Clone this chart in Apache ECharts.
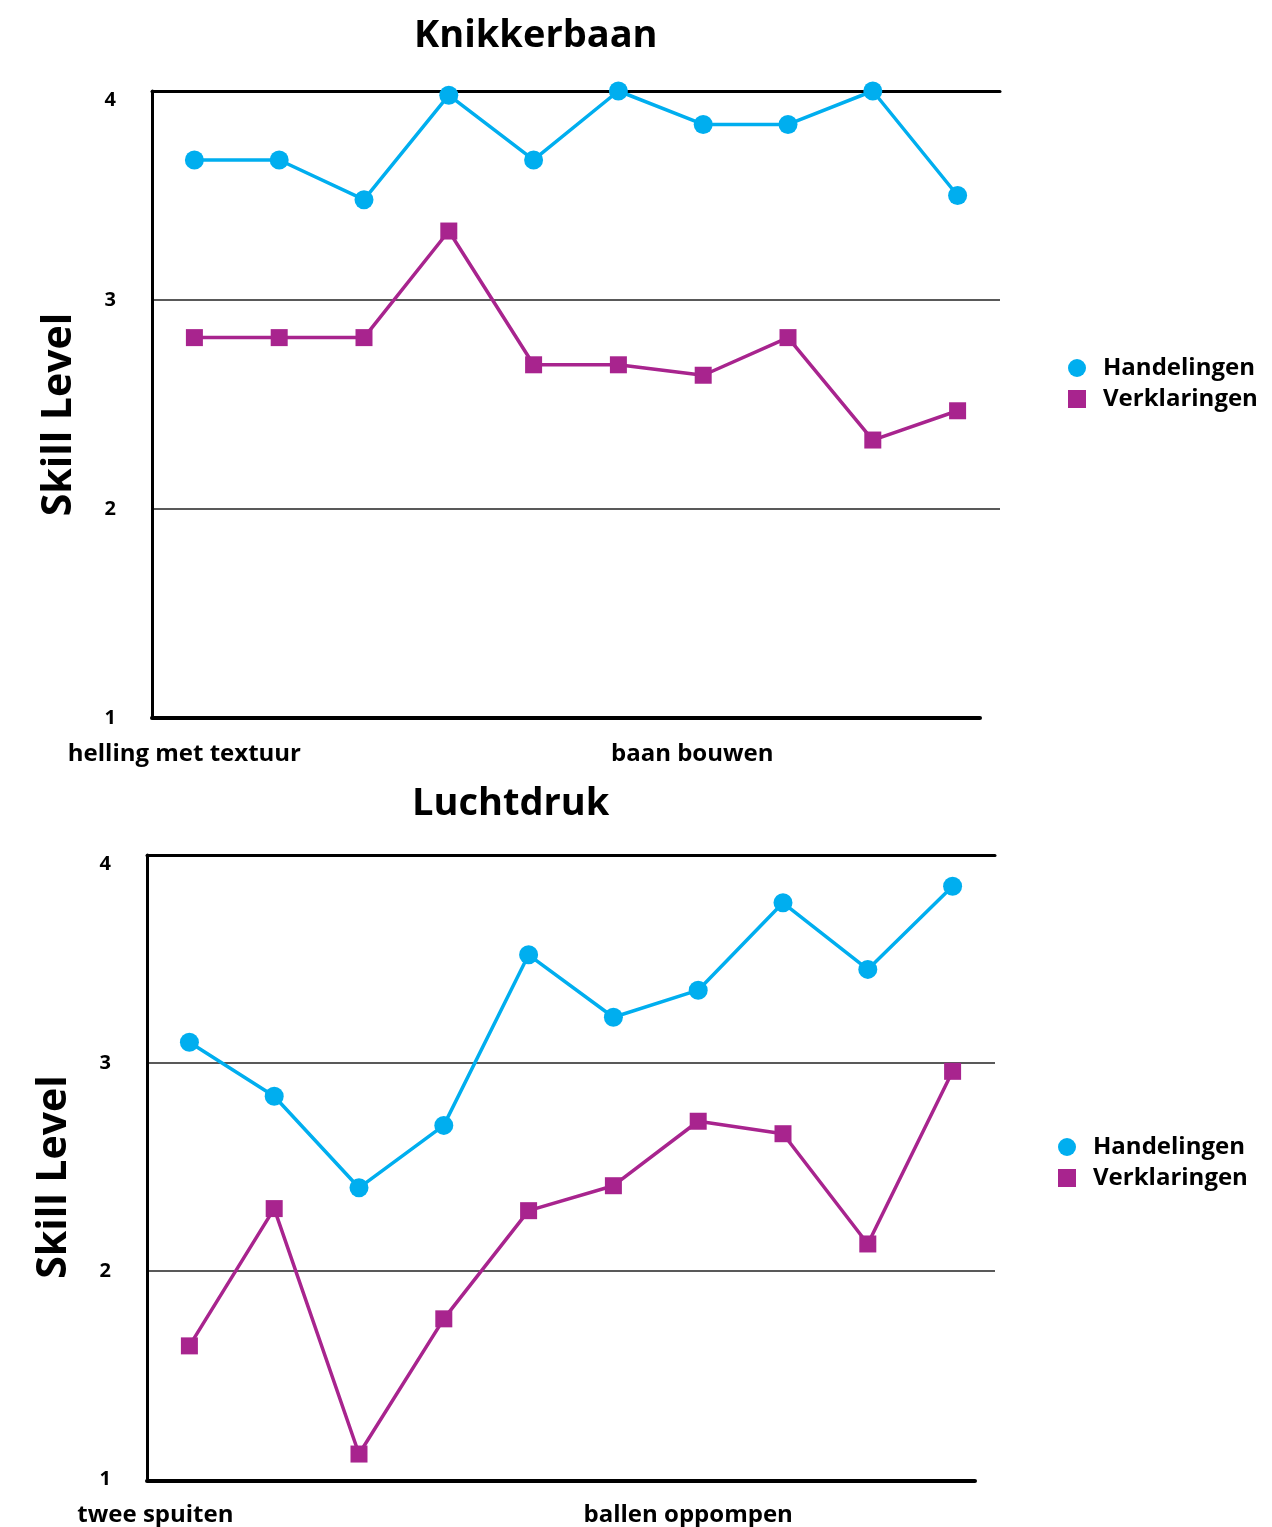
<!DOCTYPE html>
<html><head><meta charset="utf-8">
<script src="https://cdn.jsdelivr.net/npm/echarts@6/dist/echarts.min.js"></script>
<style>html,body{margin:0;padding:0;background:#fff}#c{width:1272px;height:1527px}</style>
</head><body><div id="c"></div>
<script>
const categoriesTop = ['helling met textuur','','','','','','baan bouwen','','',''];
const categoriesBottom = ['twee spuiten','','','','','','ballen oppompen','','',''];
const handelingenTop = [3.67, 3.67, 3.48, 3.98, 3.67, 4.0, 3.84, 3.84, 4.0, 3.5];
const verklaringenTop = [2.82, 2.82, 2.82, 3.33, 2.69, 2.69, 2.64, 2.82, 2.33, 2.47];
const handelingenBottom = [3.10, 2.84, 2.40, 2.70, 3.52, 3.22, 3.35, 3.77, 3.45, 3.85];
const verklaringenBottom = [1.64, 2.30, 1.12, 1.77, 2.29, 2.41, 2.72, 2.66, 2.13, 2.96];
const titles = ['Knikkerbaan', 'Luchtdruk'];
const seriesNames = ['Handelingen', 'Verklaringen'];
const yTicks = [1, 2, 3, 4];

const BLUE = '#00AEEF', PURPLE = '#A8248E';
const FONT = "'Open Sans','DejaVu Sans',sans-serif";

const chart = echarts.init(document.getElementById('c'));

const grids = [
  {left:152, right:272, top:91, height:627},
  {left:152, right:292, top:91, height:627},
  {left:147, right:277, top:855, height:626},
  {left:147, right:297, top:855, height:626}
];

function yAx(gi, show){
  return {
    type:'value', gridIndex:gi, min:yTicks[0], max:yTicks[yTicks.length-1], interval:1,
    show: show,
    name: show ? 'Skill Level' : '', nameLocation:'middle', nameGap:72,
    nameTextStyle:{fontFamily:FONT, fontWeight:'bold', fontSize:41, color:'#000', padding:[0,20,0,0]},
    axisLine:{show:true, lineStyle:{color:'#000', width:3}},
    axisTick:{show:false},
    axisLabel:{show:true, margin:36, fontFamily:FONT, fontWeight:'bold', fontSize:20, color:'#000',
      formatter: v => (v === yTicks[yTicks.length-1] ? '{d|' + v + '}' : '{n|' + v + '}'),
      rich:{
        d:{fontFamily:FONT, fontWeight:'bold', fontSize:20, color:'#000', padding:[18,0,0,0]},
        n:{fontFamily:FONT, fontWeight:'bold', fontSize:20, color:'#000'}
      }},
    splitLine:{show:true, lineStyle:{color:['rgba(0,0,0,0)','#222','#222','#222'], width:1.5}}
  };
}
function xAx(gi, cats, opts){
  return Object.assign({
    type:'category', gridIndex:gi, data:cats, boundaryGap:true,
    axisTick:{show:false},
    axisLine:{show:false},
    axisLabel:{show:false},
    splitLine:{show:false}
  }, opts);
}
function labelStyle(){
  return {show:true, interval:0, margin:24, fontFamily:FONT, fontWeight:'bold', fontSize:24, color:'#000'};
}
function catItems(cats, pads){
  return cats.map((c, i) => ({value:c, textStyle:{padding:[0, pads[i] || 0, 0, 0]}}));
}
const padsTop = [20, 0, 0, 0, 0, 0, 22, 0, 0, 0];
const padsBottom = [68, 0, 0, 0, 0, 0, 20, 0, 0, 0];

const legendText = {fontFamily:FONT, fontWeight:'bold', fontSize:24, color:'#000', padding:[0,0,0,12]};

const option = {
  animation:false,
  backgroundColor:'#fff',
  title:[
    {text:titles[0], left:409, top:12, textStyle:{fontFamily:FONT, fontWeight:'bold', fontSize:38, color:'#000'}},
    {text:titles[1], left:407, top:780, textStyle:{fontFamily:FONT, fontWeight:'bold', fontSize:38, color:'#000'}}
  ],
  legend:[
    {orient:'vertical', left:1063, top:351, itemGap:7, itemWidth:18, itemHeight:18, textStyle:legendText,
     data:[{name:seriesNames[0], icon:'circle'}, {name:seriesNames[1], icon:'rect'}]},
    {orient:'vertical', left:1053, top:1130, itemGap:7, itemWidth:18, itemHeight:18, textStyle:legendText,
     data:[{name:seriesNames[0], icon:'circle'}, {name:seriesNames[1], icon:'rect'}]}
  ],
  grid: grids,
  xAxis:[
    xAx(0, categoriesTop, {}),
    xAx(0, categoriesTop, {position:'top', axisLine:{show:true, onZero:false, lineStyle:{color:'#000', width:3}}}),
    xAx(1, categoriesTop, {axisLine:{show:true, onZero:false, lineStyle:{color:'#000', width:4}}}),
    xAx(0, catItems(categoriesTop, padsTop), {position:'bottom', axisLabel:labelStyle()}),
    xAx(2, categoriesBottom, {}),
    xAx(2, categoriesBottom, {position:'top', axisLine:{show:true, onZero:false, lineStyle:{color:'#000', width:3}}}),
    xAx(3, categoriesBottom, {axisLine:{show:true, onZero:false, lineStyle:{color:'#000', width:4}}}),
    xAx(2, catItems(categoriesBottom, padsBottom), {position:'bottom', axisLabel:labelStyle()})
  ],
  yAxis:[ yAx(0,true), yAx(1,false), yAx(2,true), yAx(3,false) ],
  series:[
    {name:seriesNames[0], type:'line', xAxisIndex:0, yAxisIndex:0, data:handelingenTop,
     symbol:'circle', symbolSize:19, itemStyle:{color:BLUE}, lineStyle:{color:BLUE, width:3.5}},
    {name:seriesNames[1], type:'line', xAxisIndex:0, yAxisIndex:0, data:verklaringenTop,
     symbol:'rect', symbolSize:17, itemStyle:{color:PURPLE}, lineStyle:{color:PURPLE, width:3.5}},
    {name:seriesNames[0], type:'line', xAxisIndex:4, yAxisIndex:2, data:handelingenBottom,
     symbol:'circle', symbolSize:19, itemStyle:{color:BLUE}, lineStyle:{color:BLUE, width:3.5}},
    {name:seriesNames[1], type:'line', xAxisIndex:4, yAxisIndex:2, data:verklaringenBottom,
     symbol:'rect', symbolSize:17, itemStyle:{color:PURPLE}, lineStyle:{color:PURPLE, width:3.5}}
  ]
};
chart.setOption(option);
</script></body></html>
